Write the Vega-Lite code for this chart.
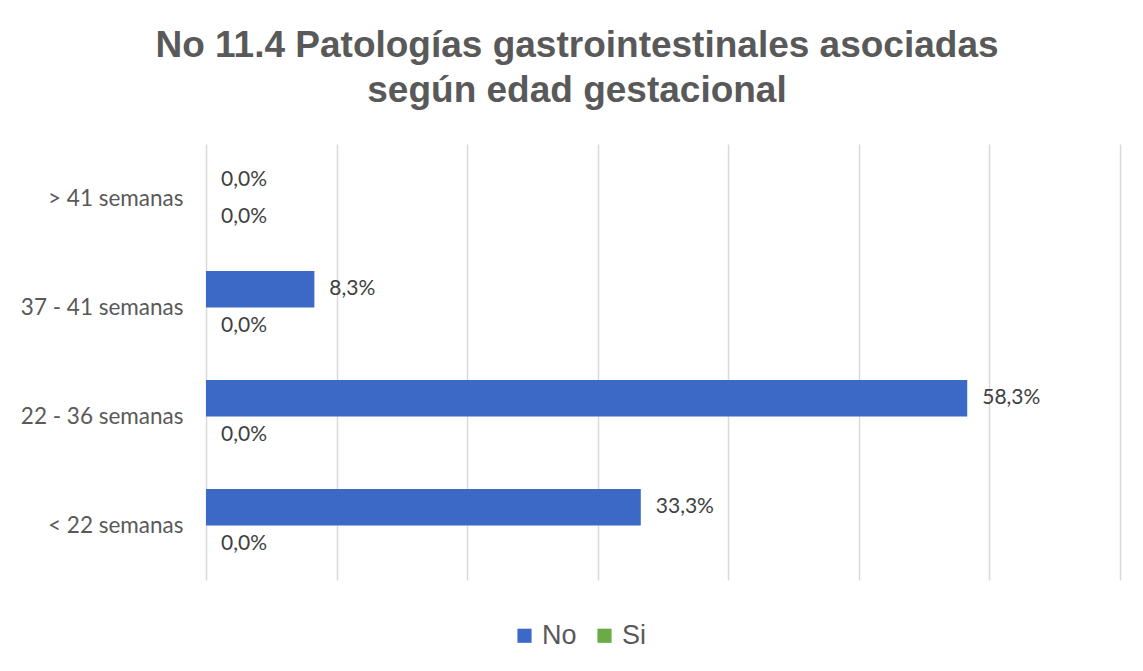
{
  "$schema": "https://vega.github.io/schema/vega-lite/v6.json",
  "width": 914,
  "height": 436,
  "autosize": {"type": "none"},
  "padding": {"left": 206, "top": 144, "right": 23, "bottom": 91},
  "background": "white",
  "title": {
    "text": ["No 11.4 Patologías gastrointestinales asociadas", "según edad gestacional"],
    "font": "Liberation Sans",
    "fontSize": 37,
    "fontWeight": "bold",
    "color": "#595959",
    "lineHeight": 45,
    "anchor": "middle",
    "dx": -86,
    "offset": 34
  },
  "data": {
    "values": [
      {"edad": "> 41 semanas", "serie": "No", "valor": 0, "etiqueta": "0,0%"},
      {"edad": "> 41 semanas", "serie": "Si", "valor": 0, "etiqueta": "0,0%"},
      {"edad": "37 - 41 semanas", "serie": "No", "valor": 8.3, "etiqueta": "8,3%"},
      {"edad": "37 - 41 semanas", "serie": "Si", "valor": 0, "etiqueta": "0,0%"},
      {"edad": "22 - 36 semanas", "serie": "No", "valor": 58.3, "etiqueta": "58,3%"},
      {"edad": "22 - 36 semanas", "serie": "Si", "valor": 0, "etiqueta": "0,0%"},
      {"edad": "< 22 semanas", "serie": "No", "valor": 33.3, "etiqueta": "33,3%"},
      {"edad": "< 22 semanas", "serie": "Si", "valor": 0, "etiqueta": "0,0%"}
    ]
  },
  "encoding": {
    "y": {
      "field": "edad",
      "type": "nominal",
      "sort": ["> 41 semanas", "37 - 41 semanas", "22 - 36 semanas", "< 22 semanas"],
      "scale": {"paddingInner": 0.33, "paddingOuter": 0.165},
      "axis": {
        "title": null,
        "domain": false,
        "ticks": false,
        "labelFont": "Lato",
        "labelFontSize": 22.5,
        "labelColor": "#595959",
        "labelPadding": 23
      }
    },
    "yOffset": {"field": "serie", "type": "nominal", "sort": ["No", "Si"]},
    "x": {
      "field": "valor",
      "type": "quantitative",
      "scale": {"domain": [0, 70], "nice": false},
      "axis": {
        "title": null,
        "labels": false,
        "ticks": false,
        "domain": false,
        "values": [0, 10, 20, 30, 40, 50, 60, 70],
        "grid": true,
        "gridColor": "#d9d9d9",
        "gridWidth": 1.5
      }
    }
  },
  "layer": [
    {
      "mark": {"type": "bar", "stroke": null},
      "encoding": {
        "color": {
          "field": "serie",
          "type": "nominal",
          "scale": {"domain": ["No", "Si"], "range": ["#3d69c6", "#6aab46"]},
          "legend": {
            "title": null,
            "orient": "none",
            "direction": "horizontal",
            "legendX": 305,
            "legendY": 478,
            "symbolType": "square",
            "symbolSize": 200,
            "symbolStrokeWidth": 0,
            "labelFont": "Liberation Sans",
            "labelFontSize": 27,
            "labelColor": "#595959",
            "labelOffset": 4,
            "columnPadding": 14
          }
        }
      }
    },
    {
      "mark": {"type": "text", "align": "left", "baseline": "middle", "dx": 15, "font": "Lato", "fontSize": 21, "color": "#404040"},
      "encoding": {"text": {"field": "etiqueta"}}
    }
  ],
  "config": {"view": {"stroke": null}}
}
